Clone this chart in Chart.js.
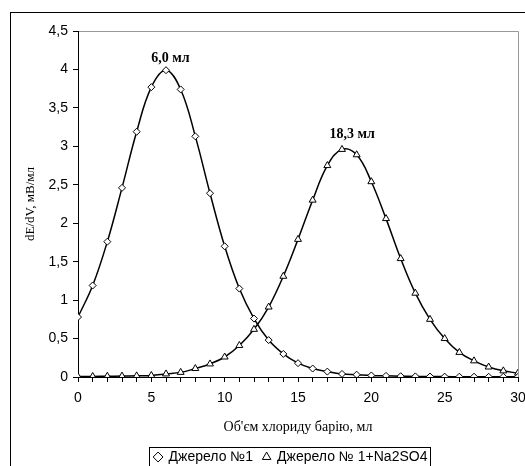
<!DOCTYPE html>
<html>
<head>
<meta charset="utf-8">
<script src="https://cdn.jsdelivr.net/npm/chart.js@4"></script>
<style>
  html, body { margin: 0; padding: 0; background: #fff; }
  #wrap { width: 525px; height: 466px; }
</style>
</head>
<body>
<div id="wrap"><canvas id="c" width="525" height="466"></canvas></div>
<script>
// Об'єм хлориду барію, мл
const volumes = [0,1,2,3,4,5,6,7,8,9,10,11,12,13,14,15,16,17,18,19,20,21,22,23,24,25,26,27,28,29,30];

// Джерело №1
const source1 = [0.78,1.19,1.76,2.46,3.19,3.77,3.99,3.74,3.13,2.39,1.70,1.15,0.76,0.48,0.30,0.18,0.11,0.07,0.04,0.03,
  0.02,0.015,0.01,0.008,0.006,0.005,0.004,0.004,0.003,0.003,0.003];

// Джерело № 1+Na2SO4
const source2 = [0.005,0.007,0.01,0.012,0.015,0.02,0.04,0.06,0.11,0.17,0.26,0.41,0.62,0.91,1.31,1.79,2.30,2.75,2.96,2.89,
  2.54,2.06,1.54,1.09,0.75,0.50,0.32,0.21,0.13,0.08,0.05];

const peakLabels = ['6,0 мл', '18,3 мл'];
const peakX = [6.3, 18.7];
const peakY = [4.14, 3.15];

const comma = v => String(v).replace('.', ',');

// рамка діаграми та сіра межа області побудови
const framePlugin = {
  id: 'frame',
  afterLayout(chart) {
    // легенда в оригіналі зміщена праворуч
    if (chart.legend) {
      chart.legend.left += 27;
      chart.legend.right += 27;
    }
  },
  beforeDraw(chart) {
    const ctx = chart.ctx;
    const a = chart.chartArea;
    ctx.save();
    ctx.strokeStyle = '#000';
    ctx.lineWidth = 1;
    ctx.strokeRect(10.5, 12.5, 600, 600);
    ctx.strokeStyle = '#999';
    ctx.beginPath();
    ctx.moveTo(a.left, a.top + 0.5);
    ctx.lineTo(a.right + 0.5, a.top + 0.5);
    ctx.lineTo(a.right + 0.5, a.bottom);
    ctx.stroke();
    ctx.restore();
  },
  afterDraw(chart) {
    // рамка легенди
    const lg = chart.legend;
    if (!lg || !lg.legendHitBoxes.length) return;
    const boxes = lg.legendHitBoxes;
    const last = boxes[boxes.length - 1];
    const l = boxes[0].left - 6;
    const r = last.left + last.width + 2;
    const t = boxes[0].top + boxes[0].height / 2 - 10;
    const ctx = chart.ctx;
    ctx.save();
    ctx.strokeStyle = '#000';
    ctx.lineWidth = 1;
    ctx.strokeRect(Math.round(l) + 0.5, Math.round(t) + 0.5, Math.round(r - l), 40);
    ctx.restore();
  }
};

// підписи піків
const peakPlugin = {
  id: 'peaks',
  afterDatasetsDraw(chart) {
    const ctx = chart.ctx;
    const xs = chart.scales.x, ys = chart.scales.y;
    ctx.save();
    ctx.font = 'bold 14px "Liberation Serif"';
    ctx.fillStyle = '#000';
    ctx.textAlign = 'center';
    ctx.textBaseline = 'middle';
    peakLabels.forEach((t, i) => {
      ctx.fillText(t, xs.getPixelForValue(peakX[i]), ys.getPixelForValue(peakY[i]));
    });
    ctx.restore();
  }
};

const toPoints = arr => arr.map((v, i) => ({ x: volumes[i], y: v }));

new Chart(document.getElementById('c'), {
  type: 'line',
  data: {
    datasets: [{
      label: 'Джерело №1',
      data: toPoints(source1),
      borderColor: '#000',
      borderWidth: 1.5,
      tension: 0.4,
      pointStyle: 'rectRot',
      pointRadius: 3.5,
      pointBackgroundColor: '#fff',
      pointBorderColor: '#000',
      pointBorderWidth: 1
    }, {
      label: 'Джерело № 1+Na2SO4',
      data: toPoints(source2),
      borderColor: '#000',
      borderWidth: 1.5,
      tension: 0.4,
      pointStyle: 'triangle',
      pointRadius: 4,
      pointBackgroundColor: '#fff',
      pointBorderColor: '#000',
      pointBorderWidth: 1
    }]
  },
  options: {
    responsive: false,
    animation: false,
    layout: { padding: { left: 10, right: 7, top: 31, bottom: -8 } },
    plugins: {
      tooltip: { enabled: false },
      legend: {
        position: 'bottom',
        labels: {
          usePointStyle: true,
          boxWidth: 7,
          boxHeight: 7,
          padding: 10,
          color: '#000',
          font: { family: '"Liberation Sans"', size: 14 }
        }
      }
    },
    scales: {
      x: {
        type: 'linear',
        min: 0,
        max: 30,
        afterFit: s => { s.height = 63; s.paddingRight = 0; },
        ticks: {
          stepSize: 1,
          autoSkip: false,
          maxRotation: 0,
          padding: 8,
          color: '#000',
          font: { family: '"Liberation Sans"', size: 14 },
          callback: v => (v % 5 === 0 ? v : '')
        },
        grid: { drawOnChartArea: false, tickLength: 5, tickColor: '#000' },
        border: { color: '#000' },
        title: {
          display: true,
          text: "Об'єм хлориду барію, мл",
          color: '#000',
          font: { family: '"Liberation Serif"', size: 14 },
          padding: { top: 12, bottom: 4 }
        }
      },
      y: {
        min: 0,
        max: 4.5,
        afterFit: s => { s.width = 68; },
        ticks: {
          stepSize: 0.5,
          padding: 5,
          color: '#000',
          font: { family: '"Liberation Sans"', size: 14 },
          callback: v => comma(v)
        },
        grid: { drawOnChartArea: false, tickLength: 5, tickColor: '#000' },
        border: { color: '#000' },
        title: {
          display: true,
          text: 'dE/dV, мВ/мл',
          color: '#000',
          font: { family: '"Liberation Serif"', size: 13 },
          padding: 13
        }
      }
    }
  },
  plugins: [framePlugin, peakPlugin]
});
</script>
</body>
</html>
